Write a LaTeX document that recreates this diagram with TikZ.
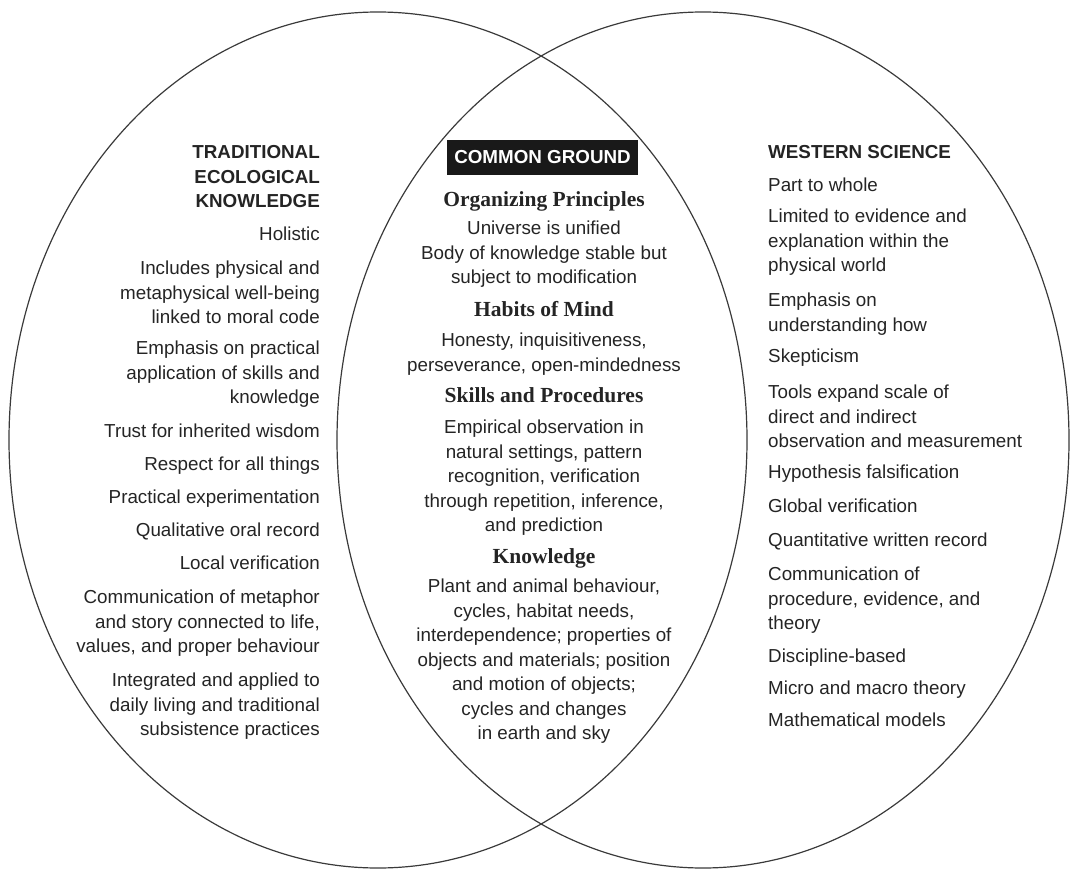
\documentclass[tikz,border=0pt]{standalone}
\usepackage{fontspec}
\setmainfont{Liberation Sans}
\newfontfamily\headserif{Liberation Serif}
\newcommand\bodyfnt{\fontsize{18.8}{24.5}\selectfont}
\newcommand\headfnt{\headserif\bfseries\fontsize{21.5}{24.5}\selectfont}
\definecolor{txt}{HTML}{242424}
\definecolor{ring}{HTML}{3A3A3A}
\tikzset{
  item/.style={inner sep=0pt, font=\bodyfnt, text=txt},
  litem/.style={item, anchor=north east, align=right},
  ritem/.style={item, anchor=north west, align=left},
  citem/.style={item, anchor=north, align=center},
  chead/.style={inner sep=0pt, anchor=north, font=\headfnt, text=txt},
  ring/.style={draw=ring, line width=1.2pt},
  cgbox/.style={fill=black!90, text=white, font=\bodyfnt\bfseries, minimum width=191pt, minimum height=35pt, inner sep=0pt}
}
\begin{document}
\begin{tikzpicture}[x=1pt,y=-1pt]
\useasboundingbox (0,0) rectangle (1070,869);
% circles
\draw[ring] (378,440) ellipse [x radius=369, y radius=428];
\draw[ring] (703,440) ellipse [x radius=366, y radius=428];

% left column
\node[litem, font=\bodyfnt\bfseries] (tek) at (320,141.5) {\strut TRADITIONAL\\ECOLOGICAL\\KNOWLEDGE};
\node[litem] (l1) at (320,223.5) {\strut Holistic};
\node[litem] (l2) at (320,257.5) {\strut Includes physical and\\metaphysical well-being\\linked to moral code};
\node[litem] (l3) at (320,337.5) {\strut Emphasis on practical\\application of skills and\\knowledge};
\node[litem] (l4) at (320,420.5) {\strut Trust for inherited wisdom};
\node[litem] (l5) at (320,453.5) {\strut Respect for all things};
\node[litem] (l6) at (320,486.5) {\strut Practical experimentation};
\node[litem] (l7) at (320,519.5) {\strut Qualitative oral record};
\node[litem] (l8) at (320,552.5) {\strut Local verification};
\node[litem] (l9) at (320,586.5) {\strut Communication of metaphor\\and story connected to life,\\values, and proper behaviour};
\node[litem] (l10) at (320,669.5) {\strut Integrated and applied to\\daily living and traditional\\subsistence practices};

% centre column
\node[cgbox] (cg) at (542.5,157.5) {COMMON GROUND};
\node[chead] (h1) at (544,189.5) {\strut Organizing Principles};
\node[citem] (c1) at (544,217.5) {\strut Universe is unified\\Body of knowledge stable but\\subject to modification};
\node[chead] (h2) at (544,299.5) {\strut Habits of Mind};
\node[citem] (c2) at (544,329.5) {\strut Honesty, inquisitiveness,\\perseverance, open-mindedness};
\node[chead] (h3) at (544,385.5) {\strut Skills and Procedures};
\node[citem] (c3) at (544,416.5) {\strut Empirical observation in\\natural settings, pattern\\recognition, verification\\through repetition, inference,\\and prediction};
\node[chead] (h4) at (544,546.5) {\strut Knowledge};
\node[citem] (c4) at (544,575.5) {\strut Plant and animal behaviour,\\cycles, habitat needs,\\interdependence; properties of\\objects and materials; position\\and motion of objects;\\cycles and changes\\in earth and sky};

% right column
\node[ritem, font=\bodyfnt\bfseries] (ws) at (768,141.5) {\strut WESTERN SCIENCE};
\node[ritem] (r1) at (768,174.5) {\strut Part to whole};
\node[ritem] (r2) at (768,205.5) {\strut Limited to evidence and\\explanation within the\\physical world};
\node[ritem] (r3) at (768,289.5) {\strut Emphasis on\\understanding how};
\node[ritem] (r4) at (768,345.5) {\strut Skepticism};
\node[ritem] (r5) at (768,381.5) {\strut Tools expand scale of\\direct and indirect\\observation and measurement};
\node[ritem] (r6) at (768,461.5) {\strut Hypothesis falsification};
\node[ritem] (r7) at (768,495.5) {\strut Global verification};
\node[ritem] (r8) at (768,529.5) {\strut Quantitative written record};
\node[ritem] (r9) at (768,563.5) {\strut Communication of\\procedure, evidence, and\\theory};
\node[ritem] (r10) at (768,645.5) {\strut Discipline-based};
\node[ritem] (r11) at (768,677.5) {\strut Micro and macro theory};
\node[ritem] (r12) at (768,709.5) {\strut Mathematical models};
\end{tikzpicture}
\end{document}
